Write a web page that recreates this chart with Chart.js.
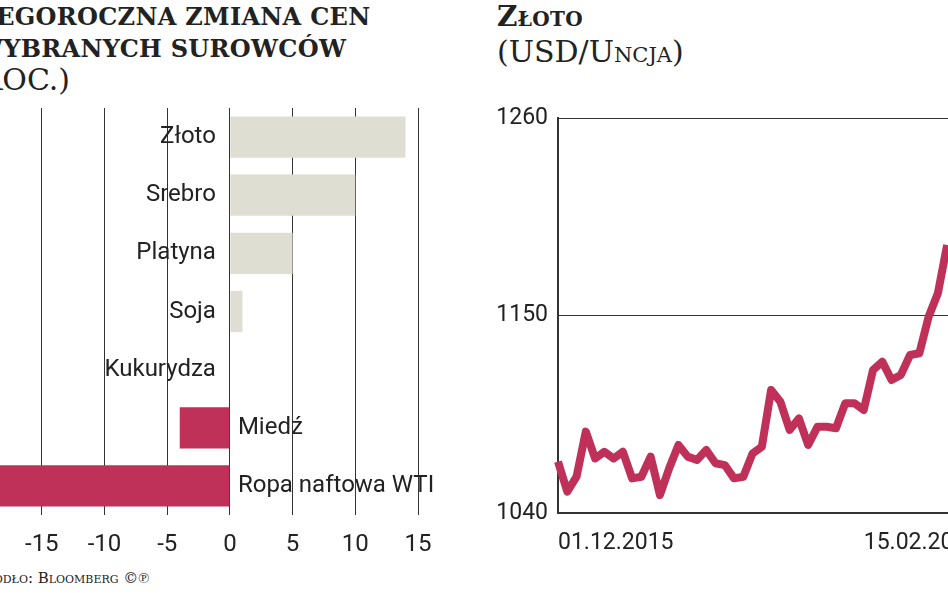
<!DOCTYPE html>
<html lang="pl">
<head>
<meta charset="UTF-8">
<title>Surowce</title>
<style>
  body { margin: 0; width: 948px; height: 593px; overflow: hidden; position: relative; background: #fff; font-family: "DejaVu Serif", serif; color: #222; }
  .t { position: absolute; white-space: nowrap; }
  .bold { font-weight: bold; font-variant: small-caps; font-size: 28px; letter-spacing: 0.3px; }
  .sub { font-size: 30px; font-variant: small-caps; }
  #left { position: absolute; left: -220px; top: 0; width: 660px; height: 593px; }
  #right { position: absolute; left: 490px; top: 0; width: 530px; height: 593px; }
</style>
<script src="https://cdn.jsdelivr.net/npm/chart.js"></script>
</head>
<body>
<div class="t bold" style="left:-22px; top:2px; font-size:24px;">TEGOROCZNA ZMIANA CEN</div>
<div class="t bold" style="left:-24px; top:34px; font-size:24px;">WYBRANYCH SUROWCÓW</div>
<div class="t sub" style="left:-32px; top:62px;">(ROC.)</div>
<div class="t bold" style="left:497px; top:0px;">Złoto</div>
<div class="t sub" style="left:497px; top:34px;">(USD/Uncja)</div>
<div class="t" style="left:-25px; top:569px; font-size:15px; font-variant:small-caps;">Źródło: Bloomberg ©℗</div>
<div id="left"><canvas id="barChart"></canvas></div>
<div id="right"><canvas id="lineChart"></canvas></div>
<script>
const categories = ["Złoto", "Srebro", "Platyna", "Soja", "Kukurydza", "Miedź", "Ropa naftowa WTI"];
const changes = [14, 10, 5, 1, 0, -4, -25];

const goldPrices = [1068.6, 1051.9, 1060.2, 1085.3, 1070.4, 1074.1, 1070.4, 1074.1, 1059.3, 1060.2,
  1071.4, 1050, 1064.9, 1077.9, 1071.4, 1069.5, 1075.1, 1067.7, 1066.7, 1059.3,
  1060.2, 1073.2, 1076.9, 1108.5, 1102, 1086.2, 1092.7, 1077.9, 1088, 1088,
  1087.2, 1101.1, 1101.1, 1097.4, 1119.7, 1124.3, 1114.1, 1116.9, 1128, 1129,
  1149.3, 1162.4, 1189.3];
const dateLabels = [];
for (let i = 0; i < 50; i++) dateLabels.push("");
dateLabels[0] = "01.12.2015";
dateLabels[33] = "15.02.2016";
const yTicks = [1040, 1150, 1260];

const narrow = "'Liberation Sans Narrow', 'Roboto', sans-serif";
const barColors = changes.map(v => v >= 0 ? "#deded3" : "#c0315a");

const barLabels = {
  id: "barLabels",
  afterDatasetsDraw(chart) {
    const ctx = chart.ctx;
    const x0 = chart.scales.x.getPixelForValue(0);
    const meta = chart.getDatasetMeta(0);
    ctx.save();
    ctx.font = "24px " + narrow;
    ctx.fillStyle = "#222";
    ctx.textBaseline = "middle";
    meta.data.forEach((bar, i) => {
      if (changes[i] >= 0) {
        ctx.textAlign = "right";
        ctx.fillText(categories[i], x0 - 14, bar.y);
      } else {
        ctx.textAlign = "left";
        ctx.fillText(categories[i], x0 + 8, bar.y);
      }
    });
    ctx.restore();
  }
};

new Chart(document.getElementById("barChart"), {
  type: "bar",
  data: {
    labels: categories,
    datasets: [{ data: changes, backgroundColor: barColors, barPercentage: 0.71, categoryPercentage: 1 }]
  },
  options: {
    indexAxis: "y",
    responsive: true,
    maintainAspectRatio: false,
    animation: false,
    layout: { padding: { top: 108, left: 11, right: 22 } },
    plugins: { legend: { display: false }, tooltip: { enabled: false } },
    scales: {
      x: {
        min: -35, max: 15,
        grid: { color: "#333", lineWidth: 1, drawTicks: false },
        border: { display: false },
        ticks: { stepSize: 5, padding: 16, color: "#222", font: { family: narrow, size: 24 } },
        afterFit(s) { s.height = 78; s.paddingLeft = 0; s.paddingRight = 0; }
      },
      y: { display: false }
    }
  },
  plugins: [barLabels]
});

new Chart(document.getElementById("lineChart"), {
  type: "line",
  data: {
    labels: dateLabels,
    datasets: [{ data: goldPrices, borderColor: "#c0315a", borderWidth: 8, pointRadius: 0, tension: 0, borderJoinStyle: "round" }]
  },
  options: {
    responsive: true,
    maintainAspectRatio: false,
    animation: false,
    layout: { padding: { top: 118, right: 0 } },
    plugins: { legend: { display: false }, tooltip: { enabled: false } },
    scales: {
      x: {
        offset: false,
        grid: { display: false },
        border: { color: "#333", width: 2 },
        ticks: { autoSkip: false, maxRotation: 0, align: "start", padding: 8, color: "#222", font: { family: narrow, size: 23 } },
        afterFit(s) { s.height = 80; }
      },
      y: {
        min: 1040, max: 1260,
        afterBuildTicks(s) { s.ticks = yTicks.map(v => ({ value: v })); },
        grid: { color: "#333", lineWidth: 1, drawTicks: false },
        border: { color: "#333", width: 2 },
        ticks: { padding: 10, color: "#222", font: { family: narrow, size: 23 }, callback: v => String(v) },
        afterFit(s) { s.width = 68; }
      }
    }
  }
});
</script>
</body>
</html>
